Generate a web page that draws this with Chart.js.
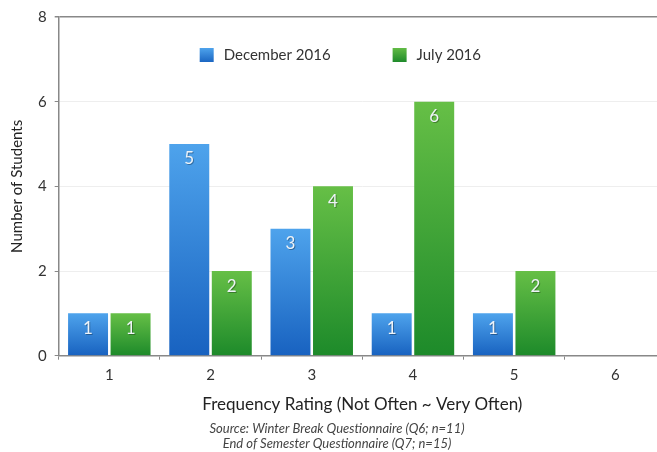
<!DOCTYPE html>
<html lang="en">
<head>
    <meta charset="UTF-8">
    <title>Frequency Rating</title>
    <script src="https://cdn.jsdelivr.net/npm/chart.js"></script>
    <style>
        body {
            margin: 0;
            background: #fff;
            overflow: hidden;
        }
        #wrap {
            width: 667px;
            height: 452px;
        }
    </style>
</head>
<body>
    <div id="wrap"><canvas id="ratingChart"></canvas></div>

    <script>
        const ratings = ['1', '2', '3', '4', '5', '6'];
        const december2016 = [1, 5, 3, 1, 1, 0];
        const july2016 = [1, 2, 4, 6, 2, 0];
        const yTicks = [0, 2, 4, 6, 8];
        const sourceLines = [
            'Source: Winter Break Questionnaire (Q6; n=11)',
            'End of Semester Questionnaire (Q7; n=15)'
        ];

        const FONT = 'Lato, "Open Sans", sans-serif';

        // vertical gradient per bar, light at the top, dark at the base
        function barFill(light, dark) {
            return (c) => {
                const chart = c.chart;
                if (c.type !== 'data' || !chart.chartArea) return dark;
                const ys = chart.scales.y;
                const top = ys.getPixelForValue(c.parsed.y);
                const bottom = ys.getPixelForValue(0);
                if (!isFinite(top) || bottom - top < 1) return dark;
                const g = chart.ctx.createLinearGradient(0, top, 0, bottom);
                g.addColorStop(0, light);
                g.addColorStop(1, dark);
                return g;
            };
        }

        const valueLabels = {
            id: 'valueLabels',
            afterDatasetsDraw(chart) {
                const ctx = chart.ctx;
                ctx.save();
                ctx.font = '17px ' + FONT;
                ctx.textAlign = 'center';
                ctx.textBaseline = 'middle';
                chart.data.datasets.forEach((ds, i) => {
                    chart.getDatasetMeta(i).data.forEach((bar, j) => {
                        const v = ds.data[j];
                        if (!v) return;
                        ctx.fillStyle = 'rgba(0,0,0,0.3)';
                        ctx.fillText(v, bar.x + 1, bar.y + 16);
                        ctx.fillStyle = '#eef3f8';
                        ctx.fillText(v, bar.x, bar.y + 15);
                    });
                });
                ctx.restore();
            }
        };

        // legend drawn inside the plot area
        const innerLegend = {
            id: 'innerLegend',
            afterDraw(chart) {
                const ctx = chart.ctx;
                const area = chart.chartArea;
                const cx = (area.left + area.right) / 2 - 22;
                const y = area.top + 38;
                ctx.save();
                ctx.font = '15px ' + FONT;
                ctx.textBaseline = 'middle';
                const items = chart.data.datasets.map(d => d.label);
                const widths = items.map(t => ctx.measureText(t).width);
                const gap = 62;
                const total = widths.reduce((a, w) => a + 14 + 10 + w, 0) + gap;
                let x = cx - total / 2;
                items.forEach((t, i) => {
                    const g = ctx.createLinearGradient(0, y - 7, 0, y + 7);
                    g.addColorStop(0, i === 0 ? '#4ea3ec' : '#62bb45');
                    g.addColorStop(1, i === 0 ? '#1b66c2' : '#1f8a2b');
                    ctx.fillStyle = g;
                    ctx.fillRect(x, y - 7, 14, 14);
                    ctx.fillStyle = '#333';
                    ctx.fillText(t, x + 24, y);
                    x += 14 + 10 + widths[i] + gap;
                });
                ctx.restore();
            }
        };

        new Chart(document.getElementById('ratingChart'), {
            type: 'bar',
            data: {
                labels: ratings,
                datasets: [
                    {
                        label: 'December 2016',
                        data: december2016,
                        backgroundColor: barFill('#4ea3ec', '#1862c0')
                    },
                    {
                        label: 'July 2016',
                        data: july2016,
                        backgroundColor: barFill('#66bf46', '#1d8a2a')
                    }
                ]
            },
            options: {
                responsive: true,
                maintainAspectRatio: false,
                animation: false,
                categoryPercentage: 0.84,
                barPercentage: 0.94,
                layout: { padding: { top: 9, right: 1, left: 8, bottom: 1 } },
                scales: {
                    x: {
                        grid: {
                            offset: true,
                            color: 'rgba(0,0,0,0)',
                            tickColor: '#888',
                            tickLength: 4
                        },
                        border: { color: '#888', width: 1.5 },
                        ticks: { color: '#333', font: { family: FONT, size: 15 }, padding: 6 },
                        title: {
                            display: true,
                            text: 'Frequency Rating (Not Often ~ Very Often)',
                            color: '#222',
                            font: { family: FONT, size: 17 },
                            padding: { top: 5, bottom: 4 }
                        }
                    },
                    y: {
                        min: 0,
                        max: 8,
                        afterBuildTicks: (axis) => {
                            axis.ticks = yTicks.map(v => ({ value: v }));
                        },
                        grid: {
                            color: (c) => c.tick && c.tick.value === 8 ? '#888' : '#eeeeee',
                            lineWidth: (c) => c.tick && c.tick.value === 8 ? 1.5 : 1,
                            tickColor: '#888',
                            tickLength: 4
                        },
                        border: { color: '#888', width: 1.5 },
                        ticks: { color: '#333', font: { family: FONT, size: 15 }, padding: 8 },
                        title: {
                            display: true,
                            text: 'Number of Students',
                            color: '#222',
                            font: { family: FONT, size: 15 },
                            padding: { top: 0, bottom: 4 }
                        }
                    }
                },
                plugins: {
                    legend: { display: false },
                    tooltip: { enabled: false },
                    title: {
                        display: true,
                        position: 'bottom',
                        text: sourceLines,
                        color: '#444',
                        font: { family: FONT, size: 13, style: 'italic', weight: 'normal', lineHeight: 1.15 },
                        padding: { top: 2, bottom: 0 }
                    }
                }
            },
            plugins: [valueLabels, innerLegend]
        });
    </script>
</body>
</html>
